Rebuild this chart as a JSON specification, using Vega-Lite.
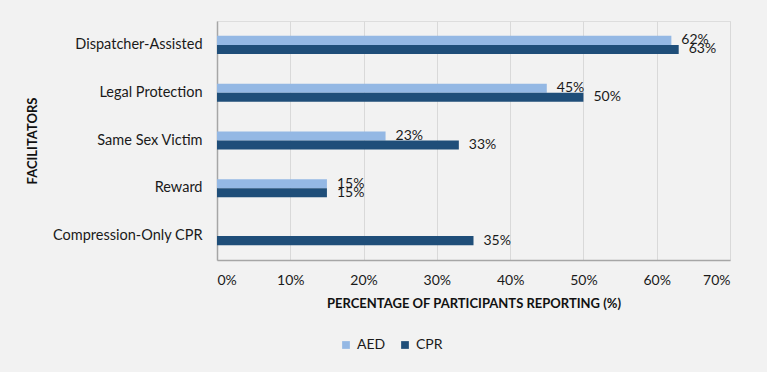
{
  "$schema": "https://vega.github.io/schema/vega-lite/v6.json",
  "autosize": "none",
  "width": 513,
  "height": 239,
  "padding": {"left": 217, "top": 21, "right": 37, "bottom": 112},
  "background": "#f2f2f2",
  "data": {
    "values": [
      {"facilitator": "Dispatcher-Assisted", "type": "AED", "share": 0.62},
      {"facilitator": "Dispatcher-Assisted", "type": "CPR", "share": 0.63},
      {"facilitator": "Legal Protection", "type": "AED", "share": 0.45},
      {"facilitator": "Legal Protection", "type": "CPR", "share": 0.50},
      {"facilitator": "Same Sex Victim", "type": "AED", "share": 0.23},
      {"facilitator": "Same Sex Victim", "type": "CPR", "share": 0.33},
      {"facilitator": "Reward", "type": "AED", "share": 0.15},
      {"facilitator": "Reward", "type": "CPR", "share": 0.15},
      {"facilitator": "Compression-Only CPR", "type": "CPR", "share": 0.35}
    ]
  },
  "encoding": {
    "y": {
      "field": "facilitator",
      "type": "nominal",
      "sort": ["Dispatcher-Assisted", "Legal Protection", "Same Sex Victim", "Reward", "Compression-Only CPR"],
      "scale": {"paddingInner": 0.623, "paddingOuter": 0.311},
      "axis": {
        "title": "FACILITATORS",
        "titleFontWeight": "bold",
        "titleFontSize": 13,
        "titleFont": "Lato",
        "titleColor": "#111111",
        "titlePadding": 13,
        "labelFont": "Lato",
        "labelFontSize": 14.5,
        "labelColor": "#1a1a1a",
        "labelPadding": 15,
        "ticks": false,
        "domainColor": "#a6a6a6",
        "domainWidth": 1.5,
        "grid": false
      }
    },
    "yOffset": {
      "field": "type",
      "type": "nominal",
      "scale": {"domain": ["AED", "CPR"], "paddingInner": 0, "paddingOuter": 0}
    },
    "x": {
      "field": "share",
      "type": "quantitative",
      "scale": {"domain": [0, 0.7], "nice": false},
      "axis": {
        "title": "PERCENTAGE OF PARTICIPANTS REPORTING (%)",
        "titleFontWeight": "bold",
        "titleFontSize": 13,
        "titleFont": "Lato",
        "titleColor": "#111111",
        "titlePadding": 10,
        "values": [0, 0.1, 0.2, 0.3, 0.4, 0.5, 0.6, 0.7],
        "format": ".0%",
        "labelFont": "Lato",
        "labelFontSize": 14,
        "labelColor": "#1a1a1a",
        "labelPadding": 13,
        "ticks": false,
        "domainColor": "#a6a6a6",
        "domainWidth": 1.5,
        "grid": true,
        "gridColor": "#d9d9d9",
        "gridWidth": 1
      }
    }
  },
  "layer": [
    {
      "mark": {"type": "bar"},
      "encoding": {
        "color": {
          "field": "type",
          "type": "nominal",
          "scale": {"domain": ["AED", "CPR"], "range": ["#94b8e4", "#1f4e79"]},
          "legend": {
            "title": null,
            "orient": "none",
            "direction": "horizontal",
            "legendX": 122,
            "legendY": 317,
            "symbolType": "square",
            "symbolSize": 60,
            "symbolStrokeWidth": 0,
            "labelFont": "Lato",
            "labelFontSize": 14,
            "labelColor": "#1a1a1a",
            "columnPadding": 12,
            "labelOffset": 4
          }
        }
      }
    },
    {
      "mark": {"type": "text", "align": "left", "baseline": "middle", "dx": 10, "font": "Lato", "fontSize": 14, "color": "#1a1a1a"},
      "encoding": {
        "text": {"field": "share", "type": "quantitative", "format": ".0%"}
      }
    }
  ]
}
